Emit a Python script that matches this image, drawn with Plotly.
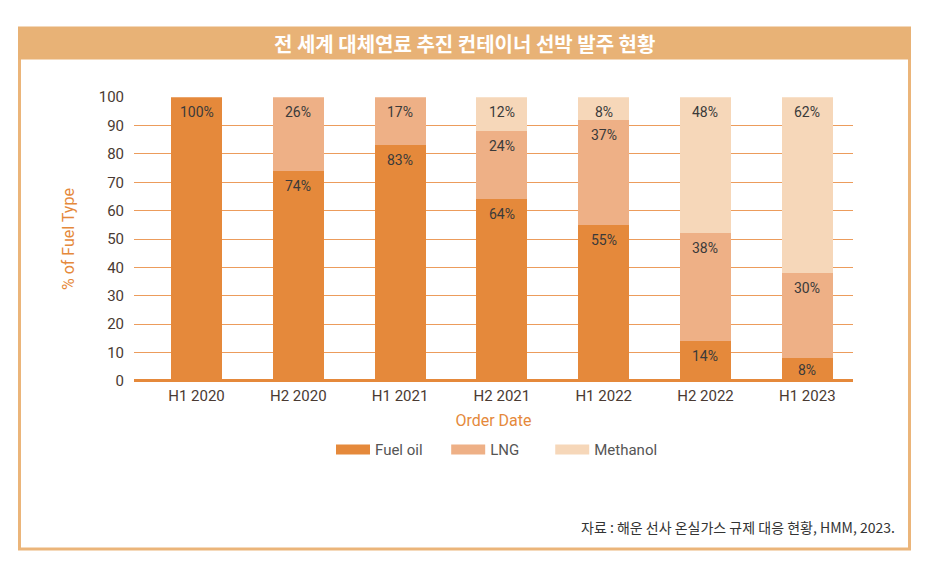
import plotly.graph_objects as go

categories = ["H1 2020", "H2 2020", "H1 2021", "H2 2021", "H1 2022", "H2 2022", "H1 2023"]
fuel_oil = [100, 74, 83, 64, 55, 14, 8]
lng = [0, 26, 17, 24, 37, 38, 30]
methanol = [0, 0, 0, 12, 8, 48, 62]
y_ticks = [0, 10, 20, 30, 40, 50, 60, 70, 80, 90, 100]

title_text = "전 세계 대체연료 추진 컨테이너 선박 발주 현황"
source_text = "자료 : 해운 선사 온실가스 규제 대응 현황, HMM, 2023."

W, H = 928, 576
FONT = "Roboto, 'Noto Sans CJK KR', sans-serif"
ORANGE = "#E5893B"
BORDER = "#EBB57A"
NBSP = "\u00a0"

series = [
    ("Fuel oil", fuel_oil, "#E5893B"),
    ("LNG", lng, "#EEB086"),
    ("Methanol", methanol, "#F6D7B9"),
]

fig = go.Figure()
for name, vals, color in series:
    fig.add_trace(go.Bar(
        name=name, x=categories, y=[v if v else None for v in vals],
        marker=dict(color=color, line=dict(width=0)),
        width=0.5, hoverinfo="skip", showlegend=False,
    ))
# legend entries with wide swatches
pads = [5, 7, 0]
for (name, vals, color), p in zip(series, pads):
    fig.add_trace(go.Scatter(
        name=name + NBSP * p, x=[None], y=[None], mode="lines",
        line=dict(color=color, width=12), hoverinfo="skip",
    ))

# value labels near the top of each segment
annotations = []
base = [0] * len(categories)
for name, vals, color in series:
    for i, v in enumerate(vals):
        if v:
            top = base[i] + v
            annotations.append(dict(
                x=categories[i], y=top, xref="x", yref="y", text=f"{v}%",
                showarrow=False, yanchor="middle", yshift=-15 if top >= 10 else -12,
                font=dict(family=FONT, size=14, color="#3a3a3a"),
            ))
            base[i] = top

annotations += [
    dict(text=f"<b>{title_text}</b>", xref="paper", yref="paper", x=464 / W, y=1 - 36 / H,
         xanchor="center", yanchor="middle", showarrow=False,
         font=dict(family="'Noto Sans CJK KR'", size=20, color="white")),
    dict(text=source_text, xref="paper", yref="paper", x=897 / W, y=1 - 535 / H,
         xanchor="right", yanchor="middle", showarrow=False,
         font=dict(family="'Noto Sans CJK KR', Roboto", size=14, color="#333333")),
]

fig.update_layout(
    width=W, height=H,
    barmode="stack",
    margin=dict(l=0, r=0, t=0, b=0),
    paper_bgcolor="white", plot_bgcolor="white",
    font=dict(family=FONT),
    showlegend=True,
    legend=dict(orientation="h", x=331 / W, xanchor="left", y=1 - 455 / H, yanchor="middle",
                font=dict(family=FONT, size=15, color="#555555"), traceorder="normal",
                itemwidth=34),
    xaxis=dict(domain=[134 / W, 853 / W], range=[-0.614, 6.449], type="category",
               showgrid=False, showline=False, zeroline=False,
               tickfont=dict(family=FONT, size=15, color="#4a3a32"),
               ticks="", ticklabelstandoff=4,
               title=dict(text="Order Date", font=dict(family=FONT, size=16, color=ORANGE), standoff=10)),
    yaxis=dict(domain=[1 - 384 / H, 1 - 91 / H], range=[0, 100],
               tickvals=y_ticks, showgrid=True, gridcolor="#EC9C5C", gridwidth=1.4,
               zeroline=True, zerolinecolor=ORANGE, zerolinewidth=2.5,
               showline=False, ticks="", ticklabelstandoff=9,
               tickfont=dict(family=FONT, size=15, color="#4a3a32"),
               title=dict(text="% of Fuel Type", font=dict(family=FONT, size=16, color=ORANGE), standoff=20)),
    shapes=[
        dict(type="rect", xref="paper", yref="paper",
             x0=19.5 / W, x1=909.5 / W, y0=1 - 557.5 / H, y1=1 - 30 / H,
             line=dict(color=BORDER, width=3), fillcolor="rgba(0,0,0,0)", layer="below"),
        dict(type="rect", xref="paper", yref="paper",
             x0=18 / W, x1=911 / W, y0=1 - 52 / H, y1=1 - 18 / H,
             line=dict(width=0), fillcolor="#E8B276", layer="below"),
    ],
    annotations=annotations,
)

fig.write_html(
    "out.html",
    config={"displayModeBar": False},
    post_script="document.documentElement.style.margin='0';document.body.style.margin='0';",
)
